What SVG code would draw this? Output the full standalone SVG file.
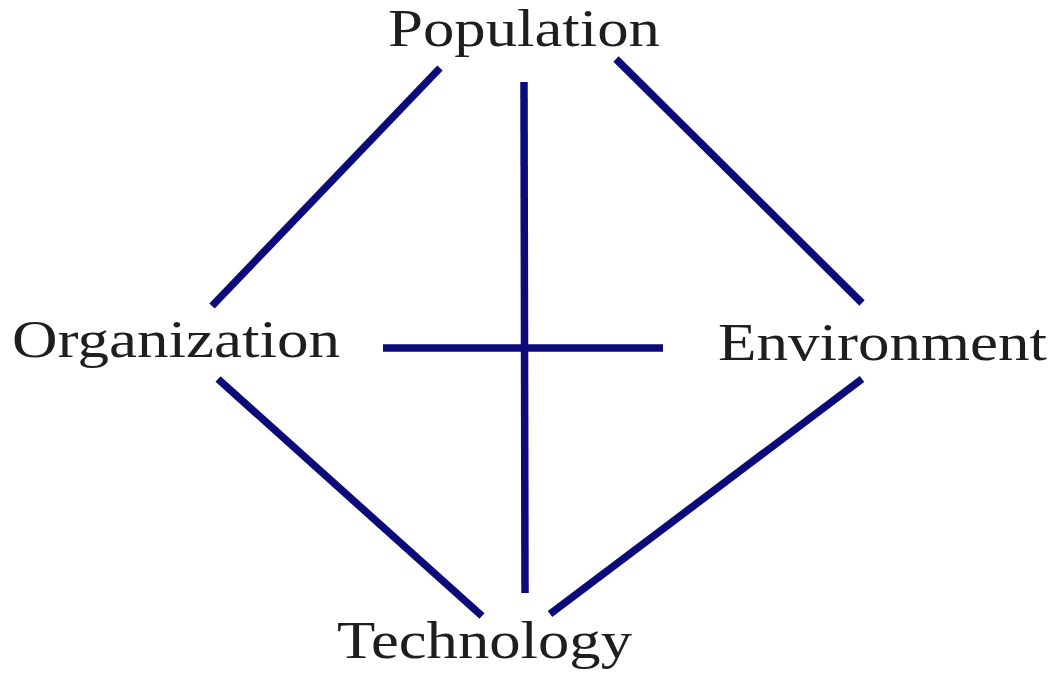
<svg xmlns="http://www.w3.org/2000/svg" width="1063" height="676" viewBox="0 0 1063 676">
  <style>
    .label { font-family: "Liberation Serif", "Times New Roman", serif; font-size: 52px; fill: #1e1e1e; }
    .link { stroke: #0b0b7a; stroke-width: 7.5; stroke-linecap: butt; fill: none; }
  </style>
  <rect width="1063" height="676" fill="#ffffff"/>

  <g id="connectors">
    <line class="link" x1="440" y1="68" x2="212" y2="306"/>
    <line class="link" x1="616" y1="59" x2="862" y2="303"/>
    <line class="link" x1="524" y1="82" x2="525" y2="593"/>
    <line class="link" x1="383" y1="348" x2="663" y2="348"/>
    <line class="link" x1="218" y1="379" x2="482" y2="616"/>
    <line class="link" x1="862" y1="379" x2="550" y2="614"/>
  </g>

  <g id="population">
    <text class="label" x="388" y="46" textLength="272" lengthAdjust="spacingAndGlyphs">Population</text>
  </g>
  <g id="organization">
    <text class="label" x="12" y="357" textLength="328" lengthAdjust="spacingAndGlyphs">Organization</text>
  </g>
  <g id="environment">
    <text class="label" x="718" y="360" textLength="329" lengthAdjust="spacingAndGlyphs">Environment</text>
  </g>
  <g id="technology">
    <text class="label" x="337" y="658" textLength="295" lengthAdjust="spacingAndGlyphs">Technology</text>
  </g>
</svg>
